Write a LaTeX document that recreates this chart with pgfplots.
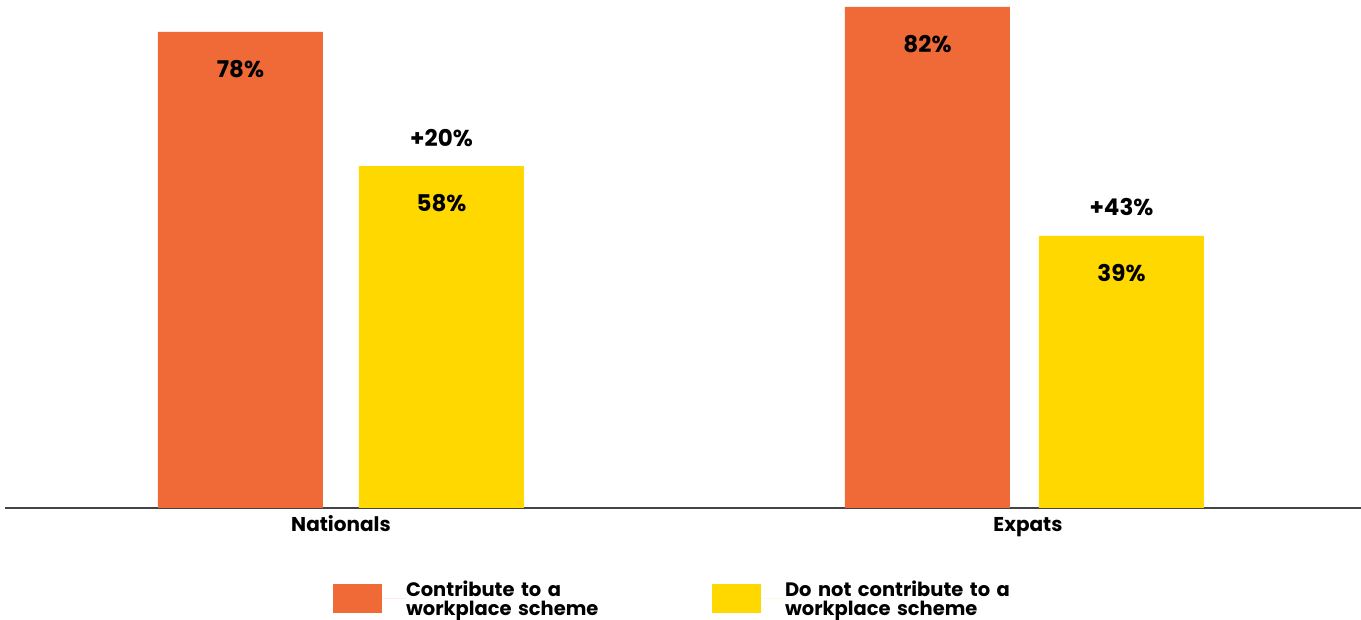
\documentclass[border=0pt]{standalone}
\usepackage{pgfplots}
\pgfplotsset{compat=1.18}
\usepackage{fontspec}
\setmainfont{Poppins}
\definecolor{cOr}{HTML}{F06A37}
\definecolor{cYe}{HTML}{FFD800}
\definecolor{cAx}{HTML}{444444}
\begin{document}
\begin{tikzpicture}
\useasboundingbox (-3.75pt,-84pt) rectangle (1017pt,381pt);
\begin{axis}[
  scale only axis, width=1017pt, height=381pt,
  xmin=5, xmax=1361, ymin=0, ymax=83.24,
  clip=false,
  axis x line*=bottom, axis y line=none,
  x axis line style={-, color=cAx, line width=1.1pt},
  ytick=\empty,
  xtick={341,1028}, xticklabels={Nationals,Expats},
  major tick length=0pt,
  xticklabel style={font=\bfseries\fontsize{15}{16}\selectfont, anchor=base, yshift=-18pt},
  legend style={at={(0.2419,-0.1752)}, anchor=west, draw=none, fill=none,
    inner sep=0pt, outer sep=0pt, row sep=0pt, column sep=0pt,
    nodes={inner sep=0pt, text width=229.5pt, align=left, yshift=6.9pt,
      font=\bfseries\fontsize{14.6}{14}\selectfont},
    cells={anchor=west}},
  legend columns=2,
  legend image code/.code={\fill[#1] (0pt,-10.875pt) rectangle (36.75pt,10.875pt); \path (0pt,0pt) -- (54.75pt,0pt);},
  every node near coord/.append style={font=\bfseries\fontsize{17.25}{20}\selectfont, text=black},
]
\addplot[ybar, bar shift=0pt, bar width=165, fill=cOr, draw=none,
  nodes near coords, point meta=explicit symbolic,
  every node near coord/.append style={anchor=center, yshift=-27.75pt}]
  coordinates {(240.5,78.0) [78\%] (927.5,82.1) [82\%]};
\addlegendentry{Contribute to a\\workplace scheme}
\addplot[ybar, bar shift=0pt, bar width=165, fill=cYe, draw=none,
  nodes near coords, point meta=explicit symbolic,
  every node near coord/.append style={anchor=center, yshift=-27.75pt}]
  coordinates {(441.5,56.0) [58\%] (1121.5,44.6) [39\%]};
\addlegendentry{Do not contribute to a\\workplace scheme}
\addplot[ybar, bar shift=0pt, bar width=165, draw=none, fill=none, forget plot,
  nodes near coords, point meta=explicit symbolic,
  every node near coord/.append style={anchor=center, yshift=21.4pt}]
  coordinates {(441.5,56.0) [+20\%] (1121.5,44.6) [+43\%]};
\end{axis}
\end{tikzpicture}
\end{document}
